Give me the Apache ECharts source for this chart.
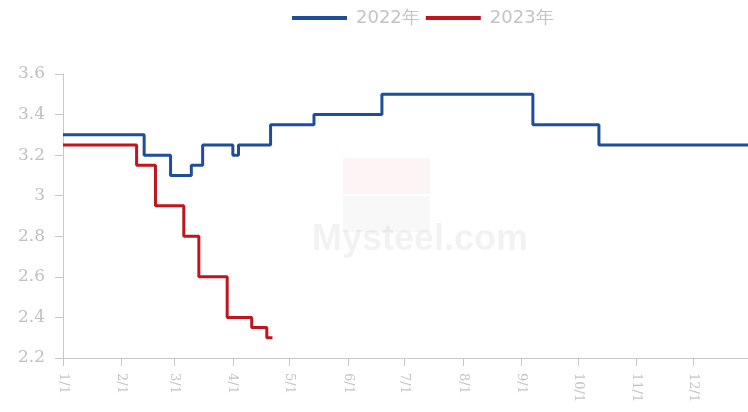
<!DOCTYPE html>
<html>
<head>
<meta charset="utf-8">
<script src="https://cdn.jsdelivr.net/npm/echarts@6/dist/echarts.min.js"></script>
<style>
html,body{margin:0;padding:0;background:#fff;}
#chart{width:748px;height:412px;}
</style>
</head>
<body>
<div id="chart"></div>
<script>
// Step change dates (month-day) and price levels
const series2022Dates = ['01-01','02-13','02-27','03-10','03-16','04-01','04-04','04-21','05-14','06-19','09-07','10-12','12-30'];
const series2022Values = [3.3, 3.2, 3.1, 3.15, 3.25, 3.2, 3.25, 3.35, 3.4, 3.5, 3.35, 3.25, 3.25];
const series2023Dates = ['01-01','02-09','02-19','03-06','03-14','03-29','04-11','04-19','04-22'];
const series2023Values = [3.25, 3.15, 2.95, 2.8, 2.6, 2.4, 2.35, 2.3, 2.3];
const seriesNames = ['2022年', '2023年'];
const yTicks = [2.2, 2.4, 2.6, 2.8, 3, 3.2, 3.4, 3.6];
const axisYear = '2022';

function toPoints(dates, vals) {
  return dates.map((d, i) => [axisYear + '-' + d, vals[i]]);
}

const chart = echarts.init(document.getElementById('chart'));
chart.setOption({
  animation: false,
  backgroundColor: '#fff',
  grid: { left: 63, right: 0, top: 74, bottom: 54, containLabel: false },
  legend: {
    top: 9, left: 292, padding: 0,
    itemWidth: 55, itemHeight: 4, itemGap: 6,
    icon: 'rect',
    textStyle: { color: '#c4c4c4', fontSize: 18, fontFamily: '"DejaVu Sans", sans-serif', padding: [0, 0, 0, 4] },
    data: seriesNames
  },
  graphic: [
    { type: 'rect', left: 343, top: 158, shape: { width: 87, height: 36 }, style: { fill: 'rgba(220,90,90,0.06)' }, silent: true },
    { type: 'rect', left: 343, top: 196, shape: { width: 87, height: 36 }, style: { fill: 'rgba(120,120,140,0.05)' }, silent: true },
    { type: 'text', left: 312, top: 222, style: { text: 'Mysteel.com', fill: 'rgba(0,0,0,0.05)', font: 'bold 36px Arial, sans-serif' }, silent: true }
  ],
  xAxis: {
    type: 'time',
    min: axisYear + '-01-01',
    max: axisYear + '-12-30',
    splitNumber: 12,
    minInterval: 28 * 86400000,
    maxInterval: 31 * 86400000,
    axisLine: { lineStyle: { color: '#c8c8c8', width: 1 } },
    axisTick: { show: true, length: 8, lineStyle: { color: '#c8c8c8' } },
    splitLine: { show: false },
    axisLabel: {
      rotate: -90,
      margin: 15,
      color: '#c4c4c4',
      fontSize: 13,
      fontFamily: '"DejaVu Serif", serif',
      formatter: function (v) { const d = new Date(v); return (d.getMonth() + 1) + '/' + d.getDate(); },
      hideOverlap: false
    }
  },
  yAxis: {
    type: 'value',
    min: yTicks[0],
    max: yTicks[yTicks.length - 1],
    interval: 0.2,
    axisLine: { show: true, lineStyle: { color: '#c8c8c8', width: 1 } },
    axisTick: { show: true, length: 8, lineStyle: { color: '#c8c8c8' } },
    splitLine: { show: false },
    axisLabel: {
      margin: 18,
      color: '#c0c0c0',
      fontSize: 17,
      fontFamily: '"DejaVu Serif", serif'
    }
  },
  series: [
    {
      name: seriesNames[0], type: 'line', step: 'end', showSymbol: false,
      color: '#1F4E99', lineStyle: { width: 3, color: '#1F4E99' },
      data: toPoints(series2022Dates, series2022Values)
    },
    {
      name: seriesNames[1], type: 'line', step: 'end', showSymbol: false,
      color: '#C0141E', lineStyle: { width: 3, color: '#C0141E' },
      data: toPoints(series2023Dates, series2023Values)
    }
  ]
});
</script>
</body>
</html>
